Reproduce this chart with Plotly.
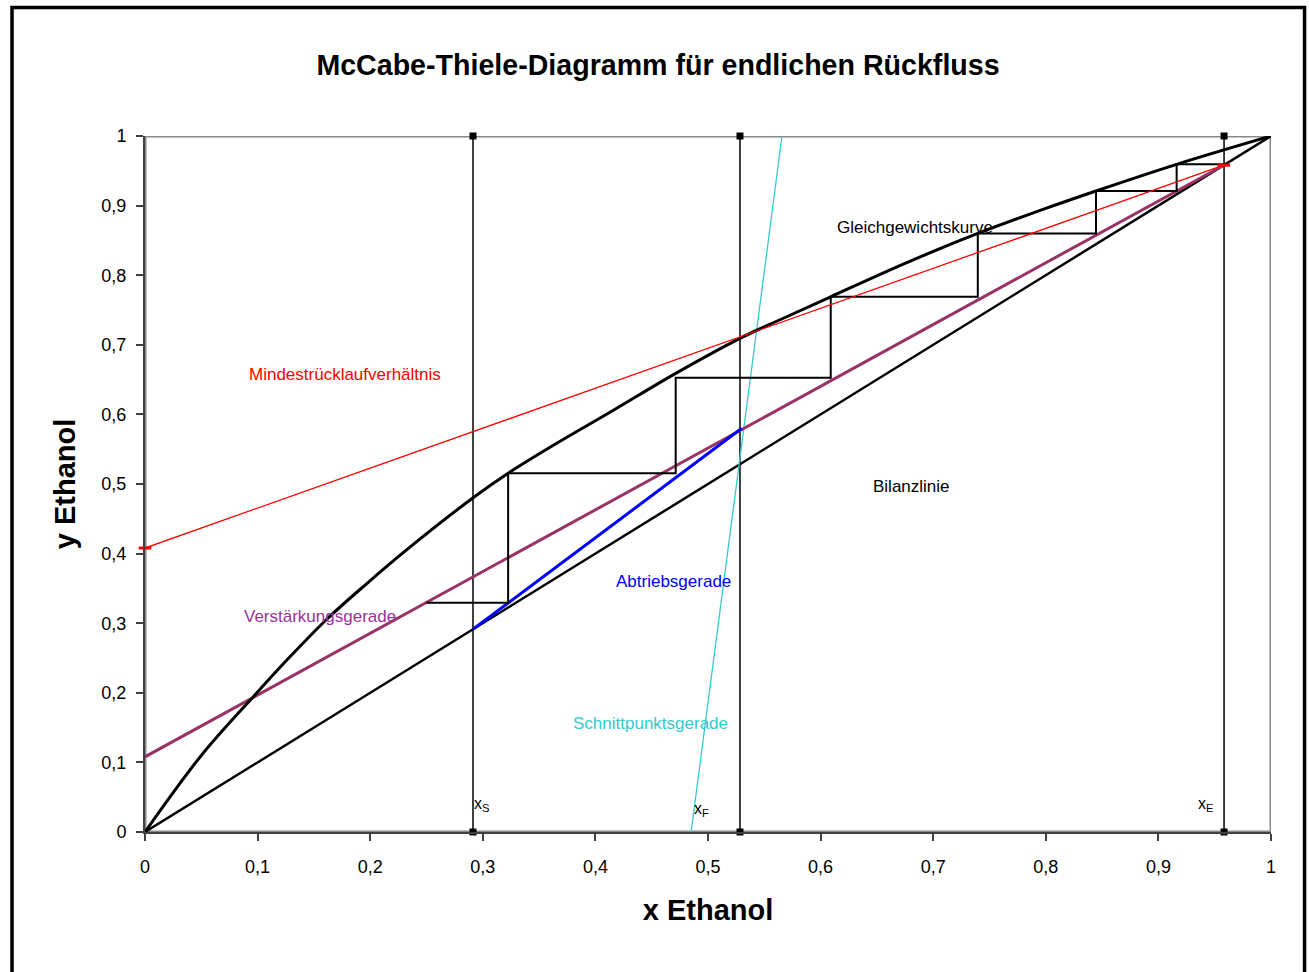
import plotly.graph_objects as go

# ---- data ----
eq_x = [0, 0.05, 0.0962, 0.126, 0.161, 0.197, 0.232, 0.292, 0.3225, 0.363, 0.416, 0.4713, 0.528, 0.564, 0.609, 0.675, 0.7396, 0.80, 0.8446, 0.9162, 1.0]
eq_y = [0, 0.110, 0.1944, 0.247, 0.305, 0.357, 0.405, 0.481, 0.5155, 0.556, 0.606, 0.659, 0.709, 0.736, 0.769, 0.817, 0.860, 0.896, 0.921, 0.9593, 1.0]

diag_x = [0, 1]
diag_y = [0, 1]

rmin_x = [0, 0.958]
rmin_y = [0.408, 0.958]

verst_x = [0, 0.958]
verst_y = [0.108, 0.958]

abtr_x = [0.2913, 0.530]
abtr_y = [0.2913, 0.580]

schnitt_x = [0.485, 0.5657]
schnitt_y = [0, 1]

steps_x = [0.250, 0.3225, 0.3225, 0.4713, 0.4713, 0.609, 0.609, 0.7396, 0.7396, 0.8446, 0.8446, 0.9162, 0.9162, 0.958]
steps_y = [0.3293, 0.3293, 0.5155, 0.5155, 0.6525, 0.6525, 0.769, 0.769, 0.860, 0.860, 0.921, 0.921, 0.9593, 0.9593]

xS, xF, xE = 0.2913, 0.5284, 0.9583

title = "McCabe-Thiele-Diagramm für endlichen Rückfluss"

labels = [
    ("Mindestrücklaufverhältnis", 0.1776, 0.658, "#FF0000", "center", 17),
    ("Gleichgewichtskurve", 0.6838, 0.869, "#000000", "center", 17),
    ("Bilanzlinie", 0.681, 0.4957, "#000000", "center", 17),
    ("Abtriebsgerade", 0.469, 0.3606, "#0000FF", "center", 17),
    ("Verstärkungsgerade", 0.1554, 0.309, "#993399", "center", 17),
    ("Schnittpunktsgerade", 0.4485, 0.1566, "#33CCCC", "center", 17),
    ("x<sub>S</sub>", 0.290, 0.040, "#000000", "left", 16),
    ("x<sub>F</sub>", 0.4855, 0.033, "#000000", "left", 16),
    ("x<sub>E</sub>", 0.933, 0.040, "#000000", "left", 16),
    ("y<sub>0,min</sub>", -0.0145, 0.368, "#000000", "left", 16),
]

FONT = "Liberation Sans, Arial, sans-serif"

fig = go.Figure()

# vertical marker lines x_S, x_F, x_E
for xv in (xS, xF, xE):
    fig.add_trace(go.Scatter(x=[xv, xv], y=[0, 1], mode="lines+markers",
                             line=dict(color="#000000", width=1.5),
                             marker=dict(symbol="square", size=7, color="#000000"),
                             cliponaxis=False, showlegend=False, hoverinfo="skip"))

fig.add_trace(go.Scatter(x=diag_x, y=diag_y, mode="lines",
                         line=dict(color="#000000", width=2.5), showlegend=False))
fig.add_trace(go.Scatter(x=schnitt_x, y=schnitt_y, mode="lines",
                         line=dict(color="#33CCCC", width=1.3), showlegend=False))
fig.add_trace(go.Scatter(x=verst_x, y=verst_y, mode="lines",
                         line=dict(color="#993366", width=3), showlegend=False))
fig.add_trace(go.Scatter(x=abtr_x, y=abtr_y, mode="lines",
                         line=dict(color="#0000FF", width=3), showlegend=False))
fig.add_trace(go.Scatter(x=steps_x, y=steps_y, mode="lines",
                         line=dict(color="#000000", width=2), showlegend=False))
fig.add_trace(go.Scatter(x=eq_x, y=eq_y, mode="lines",
                         line=dict(color="#000000", width=3, shape="spline", smoothing=1.0),
                         showlegend=False))
fig.add_trace(go.Scatter(x=rmin_x, y=rmin_y, mode="lines+markers",
                         line=dict(color="#FF0000", width=1.3),
                         marker=dict(symbol="line-ew", size=9, line=dict(color="#FF0000", width=3)),
                         cliponaxis=False, showlegend=False))

for text, x, y, col, anchor, fs in labels:
    fig.add_annotation(x=x, y=y, xref="x", yref="y", text=text, showarrow=False,
                       xanchor=anchor, yanchor="middle",
                       font=dict(family=FONT, size=fs, color=col))

# plot-area frame (top/right gray)
fig.add_shape(type="rect", xref="x", yref="y", x0=0, x1=1, y0=0, y1=1,
              line=dict(color="#888888", width=3), layer="below")
# outer chart border
fig.add_shape(type="rect", xref="paper", yref="paper", x0=-0.1181, x1=1.0298, y0=-0.35, y1=1.1846,
              line=dict(color="#000000", width=3.5))

fig.update_layout(
    width=1309, height=972,
    margin=dict(l=145, r=38, t=136, b=140),
    paper_bgcolor="white", plot_bgcolor="white",
    separators=", ",
    font=dict(family=FONT, size=18, color="#000000"),
    title=dict(text="<b>" + title + "</b>", x=658 / 1309, xref="container", xanchor="center",
               y=1 - 65 / 972, yanchor="middle", font=dict(family=FONT, size=28.6)),
    xaxis=dict(range=[0, 1], dtick=0.1, tick0=0, showgrid=False, zeroline=False,
               showline=True, linecolor="#404040", linewidth=2,
               ticks="outside", ticklen=7, tickcolor="#404040", tickwidth=1.5,
               ticklabelstandoff=10,
               title=dict(text="<b>x Ethanol</b>", font=dict(size=29), standoff=24)),
    yaxis=dict(range=[0, 1], dtick=0.1, tick0=0, showgrid=False, zeroline=False,
               showline=True, linecolor="#404040", linewidth=2,
               ticks="outside", ticklen=7, tickcolor="#404040", tickwidth=1.5,
               ticklabelstandoff=6,
               title=dict(text="<b>y Ethanol</b>", font=dict(size=29), standoff=17)),
)

fig.write_html("out.html", config={"displayModeBar": False},
               post_script="document.body.style.margin='0px';document.body.style.overflow='hidden';")
